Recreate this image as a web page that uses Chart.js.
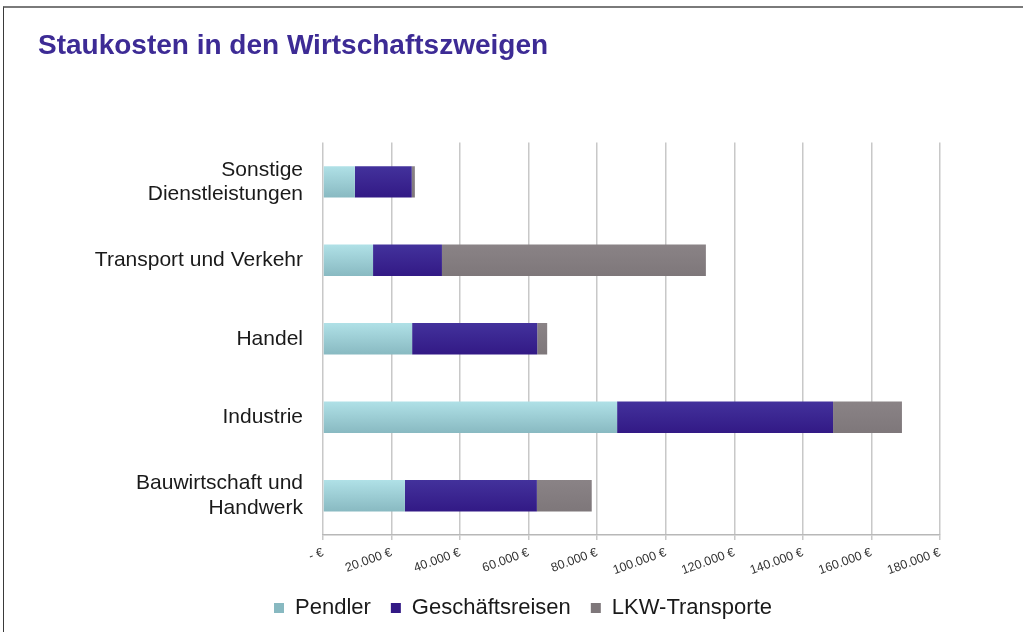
<!DOCTYPE html>
<html lang="de">
<head>
<meta charset="utf-8">
<title>Staukosten in den Wirtschaftszweigen</title>
<script src="https://cdn.jsdelivr.net/npm/chart.js@4/dist/chart.umd.min.js"></script>
<style>
    html, body { margin: 0; padding: 0; background: #fff; }
    #wrap { position: relative; width: 1023px; height: 632px; }
    #frame {
        position: absolute; left: 3px; top: 6px; right: 0; bottom: 0;
        border-top: 2px solid #7a7a7a; border-left: 1px solid #3a3a3a;
        pointer-events: none;
    }
</style>
</head>
<body>
<div id="wrap">
    <canvas id="chart" width="1023" height="632"></canvas>
    <div id="frame"></div>
</div>
<script>
// Wirtschaftszweige (von oben nach unten)
const categories = [
    ['Sonstige', 'Dienstleistungen'],
    'Transport und Verkehr',
    'Handel',
    'Industrie',
    ['Bauwirtschaft und', 'Handwerk']
];

// Staukosten in Euro
const pendler = [9300, 14600, 26000, 85800, 23900];
const geschaeftsreisen = [16600, 20100, 36500, 63000, 38500];
const lkwTransporte = [900, 77000, 2900, 20100, 16000];

const xTickLabels = ['- €', '20.000 €', '40.000 €', '60.000 €', '80.000 €',
    '100.000 €', '120.000 €', '140.000 €', '160.000 €', '180.000 €'];

const FONT = '"Liberation Sans", Arial, Helvetica, sans-serif';

// vertical gradient per bar, like the original office chart
function barFill(flat, top, bottom) {
    return function(context) {
        const chart = context.chart;
        if (context.type !== 'data' || !chart.chartArea || !chart.scales.y) {
            return flat;
        }
        const yc = chart.scales.y.getPixelForValue(context.dataIndex);
        const g = chart.ctx.createLinearGradient(0, yc - 16, 0, yc + 16);
        g.addColorStop(0, top);
        g.addColorStop(1, bottom);
        return g;
    };
}

const ctx = document.getElementById('chart').getContext('2d');

const chart = new Chart(ctx, {
    type: 'bar',
    data: {
        labels: categories,
        datasets: [{
            label: 'Pendler',
            data: pendler,
            backgroundColor: barFill('#9dd3db', '#b0e1e7', '#88b9c1')
        }, {
            label: 'Geschäftsreisen',
            data: geschaeftsreisen,
            backgroundColor: barFill('#36208e', '#43329c', '#321985')
        }, {
            label: 'LKW-Transporte',
            data: lkwTransporte,
            backgroundColor: barFill('#857e81', '#8a8386', '#7e777a')
        }]
    },
    options: {
        indexAxis: 'y',
        responsive: false,
        devicePixelRatio: 1,
        animation: false,
        datasets: {
            bar: {
                barPercentage: 0.4,
                categoryPercentage: 1
            }
        },
        layout: {
            padding: { left: 38, right: 15, top: 20, bottom: 3 }
        },
        plugins: {
            title: {
                display: true,
                text: 'Staukosten in den Wirtschaftszweigen',
                align: 'start',
                color: '#3d2b95',
                font: { family: FONT, size: 28, weight: 'bold' },
                padding: { top: 9, bottom: 80 }
            },
            legend: {
                position: 'bottom',
                labels: {
                    color: '#1a1a1a',
                    font: { family: FONT, size: 22 },
                    boxWidth: 10,
                    boxHeight: 10,
                    padding: 20
                }
            },
            tooltip: { enabled: false }
        },
        scales: {
            x: {
                stacked: true,
                min: 0,
                max: 180000,
                grid: {
                    color: '#c8c8c8',
                    lineWidth: 1.5,
                    tickLength: 5
                },
                border: { color: '#b8b8b8', width: 1.5 },
                ticks: {
                    stepSize: 20000,
                    minRotation: 20,
                    maxRotation: 20,
                    padding: 5,
                    color: '#333',
                    font: { family: FONT, size: 12.5 },
                    callback: function(value, index) {
                        return xTickLabels[index];
                    }
                },
                afterFit: function(scale) { scale.height = 42; }
            },
            y: {
                stacked: true,
                grid: { display: false },
                border: { display: false },
                ticks: {
                    color: '#1a1a1a',
                    padding: 12,
                    font: { family: FONT, size: 21, lineHeight: 1.15 }
                },
                afterFit: function(scale) { scale.width = 285; }
            },
            // empty right-hand axis keeps the plot narrower than the legend row
            spacer: {
                type: 'linear',
                position: 'right',
                display: true,
                grid: { display: false },
                border: { display: false },
                ticks: { display: false },
                afterFit: function(scale) { scale.width = 68; }
            }
        }
    }
});
</script>
</body>
</html>
